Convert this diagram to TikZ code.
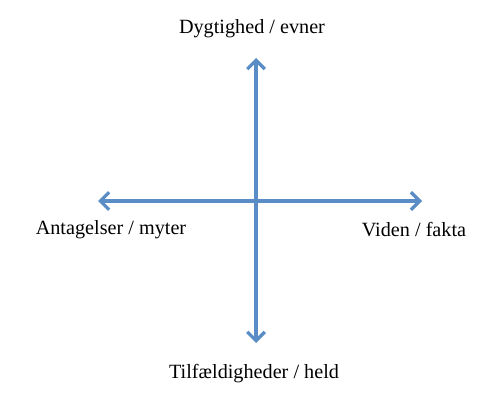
\documentclass[tikz,border=0pt]{standalone}
\usepackage{fontspec}
\setmainfont{Liberation Serif}
\usepackage{xcolor}
\usepackage{tikz}
\usetikzlibrary{arrows.meta,positioning}

\definecolor{axisblue}{HTML}{5A8CC6}

\begin{document}
\begin{tikzpicture}[
    every node/.style={font=\fontsize{11.5}{14}\selectfont},
    axisline/.style={draw=axisblue, line width=1.9pt,
        {Straight Barb[length=5pt,width=10pt,line width=1.9pt]}-{Straight Barb[length=5pt,width=10pt,line width=1.9pt]}},
]
    \useasboundingbox (0,0) rectangle (10,8);

    % axis ends
    \coordinate (top) at (5.12,6.84);
    \coordinate (bottom) at (5.12,1.14);
    \coordinate (left) at (1.96,3.98);
    \coordinate (right) at (8.44,3.98);

    % axes
    \draw[axisline] (bottom) -- (top);
    \draw[axisline] (left) -- (right);

    % labels
    \node (skill) at (5.04,7.42) {Dygtighed / evner};
    \node (chance) at (5.08,0.52) {Tilfældigheder / held};
    \node (myth) at (2.22,3.4) {Antagelser / myter};
    \node (fact) at (8.28,3.4) {Viden / fakta};
\end{tikzpicture}
\end{document}
